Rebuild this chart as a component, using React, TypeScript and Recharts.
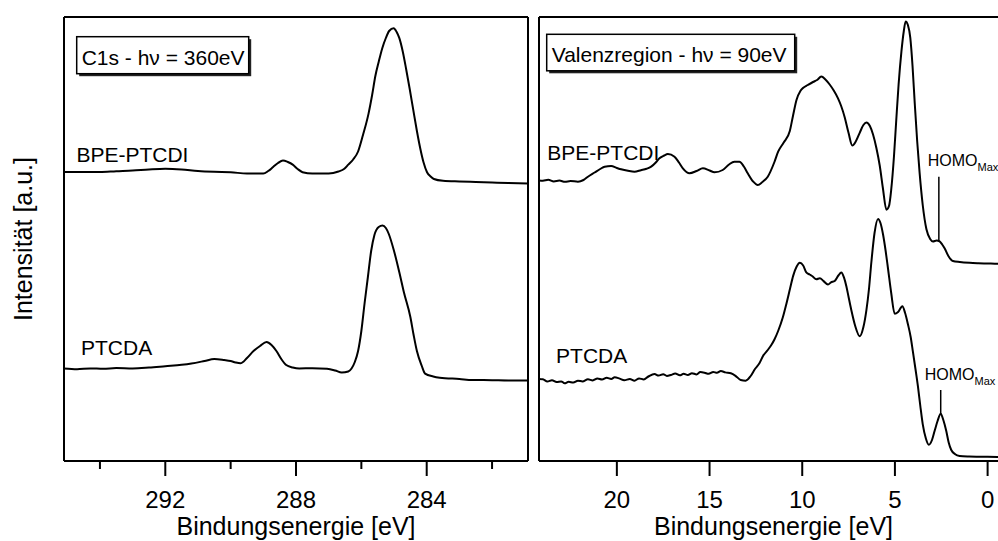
import { LineChart, Line, XAxis, YAxis, ReferenceLine, ReferenceDot } from "recharts";

const FONT = "'Liberation Sans', Arial, Helvetica, sans-serif";

// C1s, hv = 360 eV  -> [Bindungsenergie (eV), Intensität (a.u.)]
const c1sBpe: [number, number][] = [
  [295.1, 289], [294.5, 289], [294.0, 289], [293.5, 289.8], [293.0, 290.5], [292.5, 291.6],
  [292.0, 292.3], [291.5, 291.6], [291.0, 290], [290.5, 289.2], [290.0, 288.8], [289.5, 287.4],
  [289.0, 287.4], [288.85, 290], [288.7, 294], [288.55, 298], [288.4, 300.5], [288.25, 299],
  [288.1, 296.4], [287.95, 292], [287.8, 288.8], [287.5, 287.4], [287.0, 287.4], [286.7, 289.5],
  [286.52, 292.3], [286.4, 296.4], [286.25, 301.5], [286.1, 309.5], [285.95, 326], [285.78, 347.4],
  [285.67, 366], [285.57, 385.2], [285.47, 399], [285.36, 412.8], [285.25, 423], [285.15, 430],
  [285.01, 432.8], [284.92, 429], [284.84, 423.1], [284.73, 409], [284.63, 392], [284.52, 372],
  [284.41, 350.8], [284.3, 330], [284.2, 313], [284.1, 299], [283.99, 288.8], [283.88, 284.5],
  [283.78, 282], [283.5, 280.2], [283.0, 279.5], [282.5, 279], [282.0, 278.5], [281.5, 278], [280.9, 277.5],
];

const c1sPtcda: [number, number][] = [
  [295.1, 92.5], [294.7, 91.8], [294.3, 92.6], [293.9, 92.2], [293.5, 92.9], [293.0, 92.5],
  [292.5, 93.4], [292.0, 94.8], [291.5, 96.2], [291.2, 97.5], [290.8, 100], [290.5, 102],
  [290.2, 101], [290.0, 100], [289.85, 98.5], [289.7, 97.7], [289.5, 103], [289.3, 110],
  [289.1, 115], [288.9, 119], [288.75, 116], [288.6, 110], [288.45, 102], [288.3, 96],
  [288.1, 93.5], [287.9, 92.5], [287.5, 92.8], [287.05, 92.3], [286.8, 90.5], [286.6, 88.4],
  [286.4, 89.5], [286.3, 92.5], [286.2, 99], [286.1, 110], [286.0, 130], [285.9, 158],
  [285.8, 184], [285.7, 210], [285.6, 226], [285.47, 234], [285.35, 235.5], [285.25, 233],
  [285.16, 227], [285.0, 210], [284.84, 189], [284.7, 169], [284.5, 144], [284.4, 126],
  [284.3, 110], [284.15, 95], [284.05, 87.4], [283.8, 84.5], [283.6, 83.3], [283.0, 82],
  [282.6, 81], [282.0, 80.8], [281.5, 80.5], [280.9, 80.5],
];

// Valenzregion, hv = 90 eV
const valBpe: [number, number][] = [
  [24.2, 280.5], [23.99, 280.3], [23.7, 281.2], [23.4, 279.6], [23.1, 280.4], [22.8, 279.2],
  [22.5, 280.0], [22.1, 279.3], [21.8, 281.0], [21.56, 284.3], [21.2, 288.5], [20.9, 292.0],
  [20.66, 294.3], [20.31, 294.9], [20.0, 293.0], [19.77, 291.7], [19.4, 290.2], [19.05, 289.3],
  [18.7, 290.8], [18.4, 292.2], [18.15, 294.3], [17.9, 298.5], [17.7, 302.7], [17.45, 305.5],
  [17.25, 307], [16.89, 304.3], [16.65, 298.5], [16.44, 292.7], [16.08, 287.7], [15.7, 290.0],
  [15.36, 292.7], [15.0, 290.5], [14.73, 288.7], [14.29, 291], [13.95, 296.5], [13.66, 299.3],
  [13.39, 299.3], [13.15, 294.5], [12.94, 287.7], [12.65, 279.5], [12.4, 276], [12.15, 279.0],
  [11.86, 284.3], [11.5, 299.0], [11.3, 309.3], [11.0, 318.5], [10.67, 330], [10.5, 345],
  [10.31, 361], [10.1, 370], [9.96, 373], [9.7, 376], [9.42, 379], [9.2, 381],
  [8.97, 384.4], [8.75, 381.5], [8.52, 376.5], [8.3, 370.5], [8.07, 362.7], [7.9, 355],
  [7.71, 343.8], [7.5, 328], [7.3, 315.5], [7.1, 320], [6.9, 328.2], [6.7, 336],
  [6.54, 338.6], [6.35, 335], [6.18, 326.5], [6.0, 313], [5.82, 295.5], [5.65, 273],
  [5.46, 251.3], [5.32, 255], [5.2, 271.3], [5.05, 305], [4.93, 340.3], [4.8, 377],
  [4.65, 409.3], [4.52, 430], [4.42, 439.6], [4.3, 436], [4.17, 423.1], [4.05, 395],
  [3.93, 357.6], [3.8, 320], [3.67, 288.6], [3.5, 256], [3.3, 231.7], [3.1, 222],
  [2.95, 219.6], [2.75, 220.5], [2.59, 219.6], [2.45, 216.5], [2.32, 212.7], [2.1, 204.5],
  [1.87, 200], [1.5, 199], [0.97, 198.2], [0.5, 197.8], [0, 197.5], [-0.54, 197.2], [-1.1, 197.2],
];

const valPtcda: [number, number][] = [
  [24.2, 82.0], [23.99, 81.7], [23.75, 79.5], [23.5, 80.8], [23.25, 78.9], [23.0, 79.6],
  [22.82, 77.7], [22.6, 79.2], [22.35, 78.4], [22.1, 80.3], [21.85, 79.6], [21.56, 81.7],
  [21.3, 80.6], [21.05, 82.5], [20.8, 81.4], [20.55, 83.2], [20.3, 82.1], [20.12, 83.7],
  [19.85, 82.4], [19.6, 80.8], [19.3, 81.9], [19.05, 80.3], [18.8, 82.6], [18.55, 81.6],
  [18.3, 84.5], [17.97, 87], [17.75, 85.4], [17.5, 86.8], [17.3, 85.1], [17.09, 86],
  [16.85, 87.5], [16.6, 85.7], [16.4, 87.2], [16.17, 86], [15.95, 87.8], [15.7, 86.6],
  [15.5, 88.9], [15.27, 88.3], [15.05, 87.2], [14.8, 89.1], [14.6, 88.2], [14.39, 90],
  [14.15, 88.6], [13.85, 87.7], [13.6, 85.2], [13.32, 81], [13.05, 80.3], [12.78, 85],
  [12.55, 92.0], [12.31, 97.7], [12.1, 105.5], [11.86, 111], [11.66, 116.2], [11.5, 121.5],
  [11.3, 130], [11.05, 143.5], [10.85, 157.6], [10.65, 173], [10.49, 185.1], [10.3, 194.5],
  [10.13, 198.2], [9.95, 195.5], [9.78, 188.6], [9.6, 186.5], [9.45, 184.8], [9.24, 181.7],
  [9.05, 182.8], [8.85, 179.9], [8.61, 176.5], [8.45, 178.6], [8.25, 180], [8.05, 185.5],
  [7.89, 188.6], [7.75, 183.6], [7.62, 174.8], [7.5, 164], [7.35, 150.7], [7.15, 135.5],
  [6.9, 124.8], [6.7, 134], [6.54, 150.7], [6.4, 172], [6.27, 199], [6.1, 228],
  [5.91, 242], [5.78, 238], [5.64, 226.5], [5.5, 210], [5.37, 192], [5.2, 168],
  [5.01, 147.2], [4.83, 149], [4.6, 154.8], [4.45, 148], [4.3, 136.9], [4.15, 124],
  [4.03, 109.3], [3.9, 93], [3.76, 74.8], [3.63, 55], [3.5, 36.9], [3.33, 22.5],
  [3.17, 16.2], [3.0, 21], [2.86, 30], [2.7, 40], [2.53, 47.2], [2.38, 40.5],
  [2.23, 30], [2.1, 18.5], [1.96, 11], [1.75, 6.8], [1.51, 5.1], [1.0, 4.5],
  [0.5, 4.3], [0, 4.2], [-0.54, 4.1], [-1.1, 4.0],
];

const c1sDomain = [280.9, 295.1];
const valDomain = [-1.1, 24.2];
const yDomain = [0, 444];

const c1sTicks = [294, 292, 290, 288, 286, 284, 282];
const c1sLabeled = [292, 288, 284];
const valTicks = [20, 15, 10, 5, 0];

// HOMO max markers: energy, line top, line bottom
const homoBpe = [2.63, 284.3, 219.6];
const homoPtcda = [2.53, 71, 47.2];

const toRows = (pts: [number, number][]) => pts.map(([e, i]) => ({ e, i }));

const makeTick = (labeled: number[]) => (props: any) => {
  const { x, y, payload } = props;
  const major = labeled.includes(payload.value);
  return (
    <g>
      <line x1={x} x2={x} y1={y} y2={y + (major ? 15 : 8)} stroke="#000" strokeWidth={2} />
      {major && (
        <text x={x} y={y + 47} textAnchor="middle" fontSize={24} fontFamily={FONT} fill="#000">
          {payload.value}
        </text>
      )}
    </g>
  );
};

const xTitle = (props: any) => {
  const { x, y, width } = props.viewBox;
  return (
    <text x={x + width / 2} y={y + 74} textAnchor="middle" fontSize={25} fontFamily={FONT} fill="#000">
      Bindungsenergie [eV]
    </text>
  );
};

const yTitle = (props: any) => {
  const { x, y, height } = props.viewBox;
  const cx = x - 40;
  const cy = y + height / 2;
  return (
    <text x={cx} y={cy} transform={`rotate(-90 ${cx} ${cy})`} textAnchor="middle" dominantBaseline="central"
      fontSize={25} fontFamily={FONT} fill="#000">
      Intensität [a.u.]
    </text>
  );
};

const boxTitle = (text: string, dx: number, dy: number, w: number, h: number) => (props: any) => {
  const { x, y, height } = props.viewBox;
  const top = y + height;
  return (
    <g>
      <rect x={x + dx + 2.5} y={top + dy + 2.5} width={w} height={h} fill="#222" />
      <rect x={x + dx} y={top + dy} width={w} height={h} fill="#fff" stroke="#000" strokeWidth={1.5} />
      <text x={x + dx + 5} y={top + dy + 28} fontSize={21} fontFamily={FONT} fill="#000">{text}</text>
    </g>
  );
};

const textShape = (text: string) => (p: any) => (
  <text x={p.cx} y={p.cy} fontSize={21} fontFamily={FONT} fill="#000">{text}</text>
);

const homoShape = (p: any) => (
  <text x={p.cx} y={p.cy} fontSize={16} fontFamily={FONT} fill="#000">
    HOMO<tspan fontSize={11} dy={5}>Max</tspan>
  </text>
);

const frameAxes = (domain: number[], ticks: number[], labeled: number[], withYTitle: boolean, title: any) => [
  <XAxis key="xb" type="number" dataKey="e" domain={domain} reversed allowDataOverflow ticks={ticks} interval={0}
    height={1} tickSize={0} tickMargin={0} tick={makeTick(labeled)} tickLine={false}
    axisLine={{ stroke: "#000", strokeWidth: 2 }} label={xTitle} />,
  <XAxis key="xt" xAxisId="t" orientation="top" type="number" dataKey="e" domain={domain} reversed allowDataOverflow
    ticks={ticks} height={1} tick={false} tickLine={false} axisLine={{ stroke: "#000", strokeWidth: 2 }} label={title} />,
  <YAxis key="yl" type="number" domain={yDomain} width={1} tick={false} tickLine={false}
    axisLine={{ stroke: "#000", strokeWidth: 2 }} label={withYTitle ? yTitle : undefined} />,
  <YAxis key="yr" yAxisId="r" orientation="right" type="number" domain={yDomain} width={1} tick={false}
    tickLine={false} axisLine={{ stroke: "#000", strokeWidth: 2 }} />,
];

const series = (key: string, pts: [number, number][]) => (
  <Line key={key} data={toRows(pts)} dataKey="i" type="monotone" stroke="#000" strokeWidth={2}
    dot={false} isAnimationActive={false} />
);

export default function App() {
  return (
    <div style={{ position: "absolute", left: 0, top: 0, width: 998, height: 541, overflow: "hidden", background: "#fff" }}>
      <div style={{ position: "absolute", left: 0, top: 0 }}>
        <LineChart width={534} height={541} margin={{ top: 16, left: 63, right: 5, bottom: 79 }}>
          {frameAxes(c1sDomain, c1sTicks, c1sLabeled, true, boxTitle("C1s - hν = 360eV", 12.7, 19.7, 172, 37))}
          {series("c1sBpe", c1sBpe)}
          {series("c1sPtcda", c1sPtcda)}
          <ReferenceDot x={294.72} y={299} r={0} shape={textShape("BPE-PTCDI")} ifOverflow="visible" />
          <ReferenceDot x={294.58} y={106} r={0} shape={textShape("PTCDA")} ifOverflow="visible" />
        </LineChart>
      </div>
      <div style={{ position: "absolute", left: 534, top: 0 }}>
        <LineChart width={484} height={541} margin={{ top: 16, left: 4, right: 9, bottom: 79 }}>
          {frameAxes(valDomain, valTicks, valTicks, false, boxTitle("Valenzregion - hν = 90eV", 7.7, 17.3, 248, 36.5))}
          {series("valBpe", valBpe)}
          {series("valPtcda", valPtcda)}
          <ReferenceLine segment={[{ x: homoBpe[0], y: homoBpe[1] }, { x: homoBpe[0], y: homoBpe[2] }]}
            stroke="#000" strokeWidth={1.5} />
          <ReferenceLine segment={[{ x: homoPtcda[0], y: homoPtcda[1] }, { x: homoPtcda[0], y: homoPtcda[2] }]}
            stroke="#000" strokeWidth={1.5} />
          <ReferenceDot x={23.75} y={301.5} r={0} shape={textShape("BPE-PTCDI")} ifOverflow="visible" />
          <ReferenceDot x={23.28} y={98} r={0} shape={textShape("PTCDA")} ifOverflow="visible" />
          <ReferenceDot x={3.23} y={295} r={0} shape={homoShape} ifOverflow="visible" />
          <ReferenceDot x={3.39} y={81} r={0} shape={homoShape} ifOverflow="visible" />
        </LineChart>
      </div>
    </div>
  );
}
